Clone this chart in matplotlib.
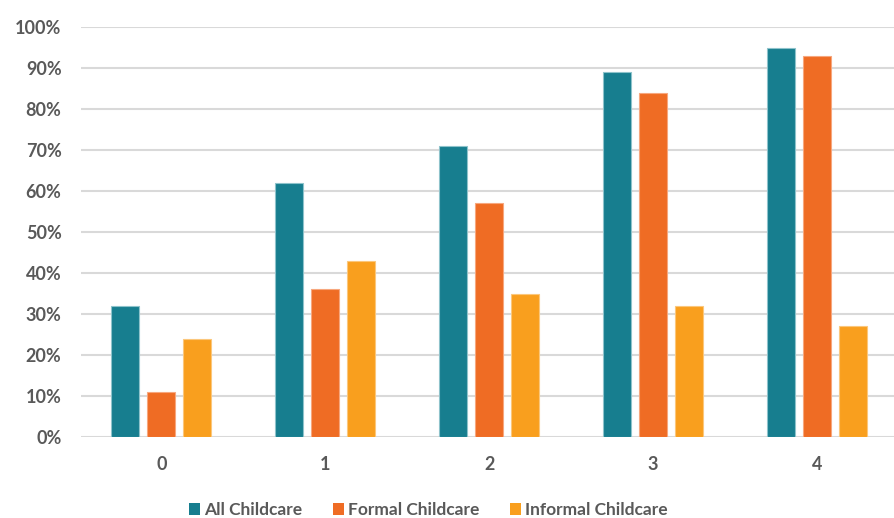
import numpy as np
import matplotlib.pyplot as plt
from matplotlib.ticker import PercentFormatter

categories = ['0', '1', '2', '3', '4']
all_care = [32, 62, 71, 89, 95]
formal_care = [11, 36, 57, 84, 93]
informal_care = [24, 43, 35, 32, 27]

series = [
    ('All Childcare', all_care, '#177E8F', '#8EC3CB'),
    ('Formal Childcare', formal_care, '#EF6C24', '#F7A77E'),
    ('Informal Childcare', informal_care, '#F99F1E', '#FBC77C'),
]

plt.rcParams['font.family'] = ['Lato', 'DejaVu Sans']
grey = '#595959'

fig = plt.figure(figsize=(8.94, 5.18), dpi=100)
ax = fig.add_axes([81 / 894, 1 - 437 / 518, 1 - 81 / 894, 410 / 518])

x = np.arange(len(categories))
width = 0.171
step = 0.22
for i, (name, vals, color, edge) in enumerate(series):
    ax.bar(x + (i - 1) * step, vals, width, color=color, edgecolor=edge,
           linewidth=0.8, label=name, zorder=3)

ax.set_ylim(0, 100)
ax.set_xlim(-0.49, 4.47)
ax.set_yticks(range(0, 101, 10))
ax.yaxis.set_major_formatter(PercentFormatter(decimals=0))
ax.set_xticks(x)
ax.set_xticklabels(categories)
ax.grid(axis='y', color='#D9D9D9', linewidth=1.5, zorder=0)
for s in ax.spines.values():
    s.set_visible(False)
ax.tick_params(length=0, labelsize=13, labelcolor=grey)
ax.tick_params(axis='y', pad=14)
ax.tick_params(axis='x', pad=14)
for lab in ax.get_xticklabels() + ax.get_yticklabels():
    lab.set_fontweight('bold')

leg = fig.legend(loc='lower center', bbox_to_anchor=(0.479, -0.03), ncol=3,
                 frameon=False, handlelength=0.63, handleheight=0.68,
                 handletextpad=0.25, columnspacing=1.75,
                 prop={'size': 12.5, 'weight': 'bold'})
for t in leg.get_texts():
    t.set_color(grey)
for h in leg.legend_handles:
    h.set_edgecolor('none')

fig.savefig('out.png', dpi=100)
